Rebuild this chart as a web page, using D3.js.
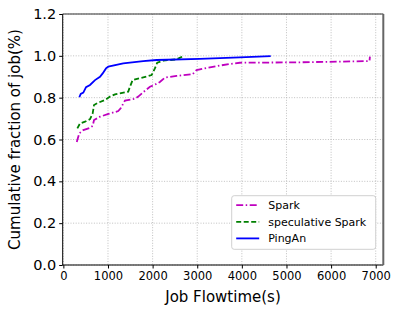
<!DOCTYPE html>
<html>
<head>
<meta charset="utf-8">
<script src="https://cdn.jsdelivr.net/npm/d3@7"></script>
<style>
  body { margin: 0; background: #fff; }
  text { font-family: "DejaVu Sans", sans-serif; }
</style>
</head>
<body>
<div id="chart"></div>
<script>
// CDF data: [flowtime (s), cumulative fraction]
const sparkData = [
  [300, 0.588], [358, 0.63], [447, 0.645], [597, 0.656], [657, 0.665], [687, 0.693],
  [821, 0.709], [1007, 0.722], [1230, 0.736], [1284, 0.749], [1380, 0.786], [1604, 0.795],
  [1678, 0.805], [1828, 0.833], [1940, 0.852], [2051, 0.862], [2163, 0.875], [2275, 0.896],
  [2537, 0.904], [2895, 0.912], [2984, 0.932], [3208, 0.942], [3432, 0.951], [3729, 0.961],
  [3953, 0.967], [5295, 0.969], [6861, 0.975], [6870, 0.996]
];
const specData = [
  [313, 0.653], [373, 0.677], [485, 0.685], [597, 0.697], [657, 0.725], [687, 0.765],
  [783, 0.776], [933, 0.789], [1045, 0.805], [1157, 0.816], [1454, 0.829], [1492, 0.852],
  [1552, 0.884], [1790, 0.897], [1978, 0.908], [2051, 0.94], [2103, 0.967], [2237, 0.977],
  [2537, 0.983], [2680, 0.998]
];
const pinganData = [
  [358, 0.802], [389, 0.818], [447, 0.824], [508, 0.85], [597, 0.861], [709, 0.884],
  [821, 0.9], [881, 0.916], [955, 0.94], [1007, 0.948], [1342, 0.964], [1790, 0.975],
  [2089, 0.98], [3058, 0.985], [3953, 0.993], [4647, 0.999]
];
const seriesNames = ["Spark", "speculative Spark", "PingAn"];
const xTicks = [0, 1000, 2000, 3000, 4000, 5000, 6000, 7000];
const yTicks = [0.0, 0.2, 0.4, 0.6, 0.8, 1.0, 1.2];

const width = 399, height = 313;
const plotL = 62.7, plotR = 383.3, plotT = 14, plotB = 265;

const svg = d3.select("#chart").append("svg")
  .attr("width", width).attr("height", height);

const x = d3.scaleLinear().domain([-15, 7170]).range([plotL, plotR]);
const y = d3.scaleLinear().domain([0, 1.2]).range([plotB, plotT]);

// grid
svg.append("g").selectAll("line").data(xTicks).join("line")
  .attr("x1", d => x(d)).attr("x2", d => x(d))
  .attr("y1", plotT).attr("y2", plotB)
  .attr("stroke", "#b0b0b0").attr("stroke-width", 0.8)
  .attr("stroke-dasharray", "1,1.6");
svg.append("g").selectAll("line").data(yTicks).join("line")
  .attr("x1", plotL).attr("x2", plotR)
  .attr("y1", d => y(d)).attr("y2", d => y(d))
  .attr("stroke", "#b0b0b0").attr("stroke-width", 0.8)
  .attr("stroke-dasharray", "1,1.6");

// axes
const xAxis = svg.append("g")
  .attr("transform", `translate(0,${plotB})`)
  .call(d3.axisBottom(x).tickValues(xTicks).tickSize(3.5).tickPadding(3).tickFormat(d3.format("d")));
xAxis.selectAll("text").style("font-size", "11.5px").attr("fill", "#000");

const yAxis = svg.append("g")
  .attr("transform", `translate(${plotL},0)`)
  .call(d3.axisLeft(y).tickValues(yTicks).tickSize(3.5).tickPadding(3).tickFormat(d3.format(".1f")));
yAxis.selectAll("text").style("font-size", "14.5px").attr("fill", "#000");
svg.selectAll(".domain").remove();

// lines
const line = d3.line().x(d => x(d[0])).y(d => y(d[1]));
const styles = [
  { data: sparkData, color: "#bf00bf", dash: "7,2.5,1.5,2.5" },
  { data: specData, color: "#008000", dash: "5,2.5" },
  { data: pinganData, color: "#0000ff", dash: null }
];
styles.forEach(s => {
  svg.append("path").datum(s.data)
    .attr("d", line)
    .attr("fill", "none")
    .attr("stroke", s.color)
    .attr("stroke-width", 1.8)
    .attr("stroke-dasharray", s.dash);
});

// spines
svg.append("line").attr("x1", plotL).attr("x2", plotL).attr("y1", plotT).attr("y2", plotB).attr("stroke", "#000");
svg.append("line").attr("x1", plotL).attr("x2", plotR).attr("y1", plotB).attr("y2", plotB).attr("stroke", "#000");
svg.append("line").attr("x1", plotL).attr("x2", plotR).attr("y1", plotT).attr("y2", plotT).attr("stroke", "#333");
svg.append("line").attr("x1", plotR).attr("x2", plotR).attr("y1", plotT).attr("y2", plotB)
  .attr("stroke", "#666").attr("stroke-width", 2);

// legend
const legend = svg.append("g").attr("transform", "translate(231.7,195.7)");
legend.append("rect")
  .attr("width", 144).attr("height", 53.6).attr("rx", 2.5)
  .attr("fill", "#fff").attr("stroke", "#d0d0d0").attr("stroke-width", 1);
seriesNames.forEach((name, i) => {
  const ly = 9.5 + i * 16.6;
  legend.append("line")
    .attr("x1", 4.5).attr("x2", 27.5).attr("y1", ly).attr("y2", ly)
    .attr("stroke", styles[i].color).attr("stroke-width", 1.8)
    .attr("stroke-dasharray", styles[i].dash);
  legend.append("text")
    .attr("x", 36.5).attr("y", ly).attr("dy", "0.35em")
    .style("font-size", "11px").text(name);
});

// axis titles
svg.append("text")
  .attr("x", (plotL + plotR) / 2).attr("y", 302)
  .attr("text-anchor", "middle")
  .style("font-size", "15px")
  .text("Job Flowtime(s)");

svg.append("text")
  .attr("transform", `translate(20,${(plotT + plotB) / 2}) rotate(-90)`)
  .attr("text-anchor", "middle")
  .style("font-size", "15px")
  .text("Cumulative fraction of job(%)");
</script>
</body>
</html>
